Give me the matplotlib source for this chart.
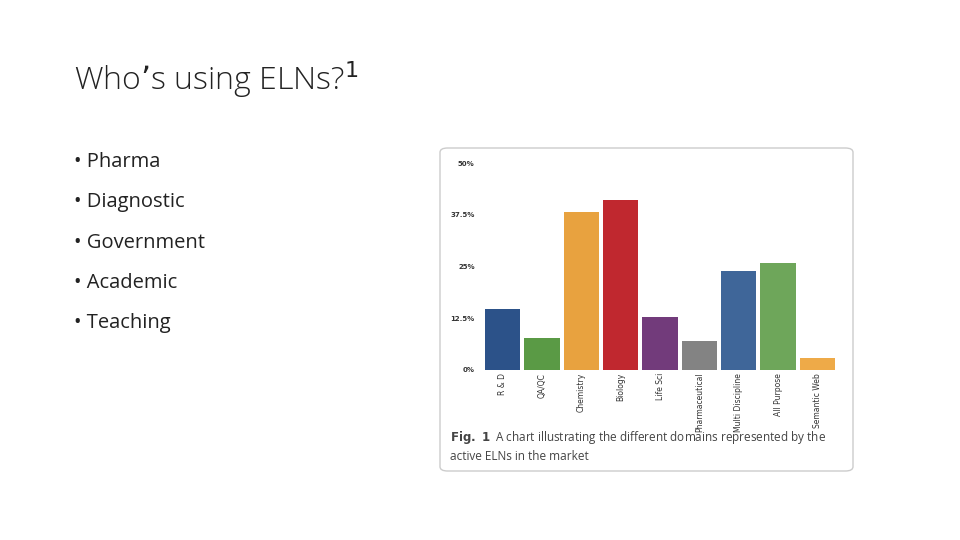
import matplotlib
matplotlib.use("Agg")
import matplotlib.pyplot as plt
from matplotlib.patches import FancyBboxPatch

categories = ["R & D", "QA/QC", "Chemistry", "Biology", "Life Sci", "Pharmaceutical",
              "Multi Discipline", "All Purpose", "Semantic Web"]
values = [14.8, 7.8, 38.1, 41.1, 12.7, 6.9, 24.0, 25.9, 2.9]
colors = ["#2c5289", "#5a9a45", "#e8a23f", "#c0282f", "#723b7b", "#838383",
          "#3f6699", "#6ea65a", "#eeaa48"]
yticks = [0, 12.5, 25, 37.5, 50]
ytick_labels = ["0%", "12.5%", "25%", "37.5%", "50%"]
bullets = ["Pharma", "Diagnostic", "Government", "Academic", "Teaching"]

fig = plt.figure(figsize=(9.6, 5.4), dpi=100)
fig.patch.set_facecolor("white")

fig.text(74/960, 1-80/540, "Who\u2019s using ELNs?$^1$", fontsize=23, family="Open Sans",
         va="center", ha="left", color="#222222", fontweight="light")
for i, b in enumerate(bullets):
    fig.text(74/960, 1-(162+40.3*i)/540, "\u2022 " + b, fontsize=14.5, family="Open Sans",
             va="center", ha="left", color="#222222")

# frame
frame = FancyBboxPatch((440/960, 1-471/540), 413/960, 323/540,
                       boxstyle="round,pad=0,rounding_size=0.008",
                       transform=fig.transFigure, facecolor="white",
                       edgecolor="#cccccc", linewidth=1.0, zorder=-5)
fig.patches.append(frame)

ax = fig.add_axes([483/960, 1-370/540, 354/960, 207/540])
ax.set_zorder(5)
x = range(len(categories))
ax.bar(x, values, width=0.9, color=colors)
ax.set_xlim(-0.5, len(categories)-0.5)
ax.set_ylim(0, 50)
ax.set_yticks(yticks)
ax.set_yticklabels(ytick_labels, fontsize=5, fontweight="bold", color="#333333")
ax.set_xticks(list(x))
ax.set_xticklabels(categories, rotation=90, fontsize=5.5, color="#333333", va="top")
ax.tick_params(length=0, pad=6)
ax.tick_params(axis="x", pad=2)
for s in ax.spines.values():
    s.set_visible(False)
ax.patch.set_alpha(0)

fig.text(450/960, 1-438/540, r"$\bf{Fig.\ 1}$  A chart illustrating the different domains represented by the",
         fontsize=8.5, family="Open Sans", color="#444444", va="center")
fig.text(450/960, 1-456/540, "active ELNs in the market",
         fontsize=8.5, family="Open Sans", color="#444444", va="center")

fig.savefig("out.png", dpi=100)
